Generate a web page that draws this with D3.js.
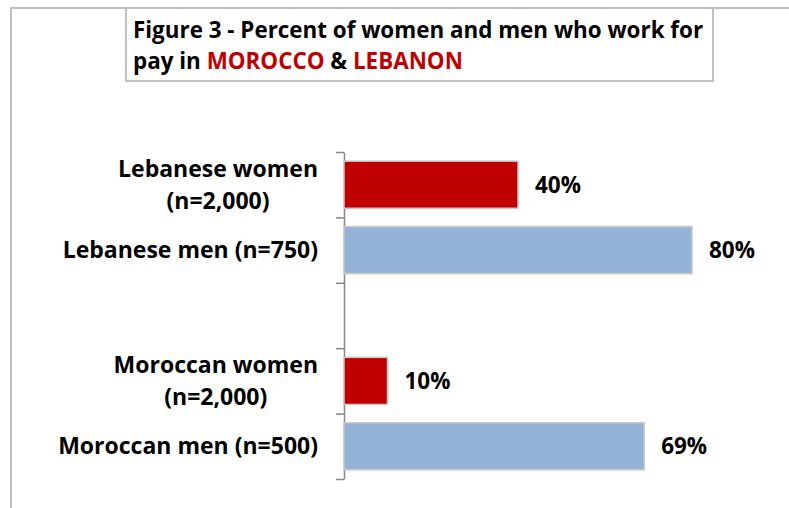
<!DOCTYPE html>
<html>
<head>
<meta charset="utf-8">
<script src="https://cdn.jsdelivr.net/npm/d3@7"></script>
<style>
  body { margin: 0; background: #fff; }
  text { font-family: "Open Sans", sans-serif; font-weight: bold; fill: #000; }
</style>
</head>
<body>
<svg id="chart" width="789" height="508"></svg>
<script>
// categories top to bottom, "gap" is the empty slot between countries
var categories = ["lw", "lm", "gap", "mw", "mm"];
var labels = {
  lw: ["Lebanese women", "(n=2,000)"],
  lm: ["Lebanese men (n=750)"],
  mw: ["Moroccan women", "(n=2,000)"],
  mm: ["Moroccan men (n=500)"]
};
var values = { lw: 40, lm: 80, mw: 10, mm: 69 };
var sex = { lw: "women", lm: "men", mw: "women", mm: "men" };
var valueLabels = { lw: "40%", lm: "80%", mw: "10%", mm: "69%" };

var svg = d3.select("#chart");
var color = { women: "#c00000", men: "#95b3d7" };

// outer frame
svg.append("path")
    .attr("d", "M11,520 V8 H800")
    .attr("fill", "none")
    .attr("stroke", "#c0c0c0")
    .attr("stroke-width", 2);

// title box
svg.append("rect")
    .attr("x", 126).attr("y", 8)
    .attr("width", 587).attr("height", 73)
    .attr("fill", "#fff")
    .attr("stroke", "#c0c0c0")
    .attr("stroke-width", 2);

var t1 = svg.append("text").attr("x", 133).attr("y", 38).style("font-size", "22.4px");
t1.text("Figure 3 - Percent of women and men who work for");
var t2 = svg.append("text").attr("x", 133).attr("y", 69).style("font-size", "22.4px");
t2.append("tspan").text("pay in ");
t2.append("tspan").style("fill", "#c00000").text("MOROCCO");
t2.append("tspan").text(" & ");
t2.append("tspan").style("fill", "#c00000").text("LEBANON");

var x = d3.scaleLinear().domain([0, 100]).range([344, 779]);
var y = d3.scaleBand().domain(categories).range([152, 479])
    .paddingInner(0.28).paddingOuter(0.14);
var yEdge = d3.scaleLinear().domain([0, categories.length]).range([152, 479]);

// category axis with ticks between categories
var axis = svg.append("g")
    .attr("transform", "translate(344,0)")
    .call(d3.axisLeft(yEdge).tickValues(d3.range(categories.length + 1))
      .tickSize(8).tickSizeOuter(0).tickFormat(""));
axis.select(".domain").attr("stroke", "#868686").attr("stroke-width", 1.5);
axis.selectAll(".tick line").attr("stroke", "#868686").attr("stroke-width", 1.5);

var data = categories.filter(function(c) { return values[c] != null; });

svg.selectAll(".bar")
    .data(data)
  .enter().append("rect")
    .attr("class", "bar")
    .attr("x", x(0))
    .attr("y", function(d) { return y(d); })
    .attr("width", function(d) { return x(values[d]) - x(0); })
    .attr("height", y.bandwidth())
    .attr("fill", function(d) { return color[sex[d]]; })
    .attr("stroke", "#c8c8c8")
    .attr("stroke-width", 1.5);

svg.selectAll(".val")
    .data(data)
  .enter().append("text")
    .attr("class", "val")
    .attr("x", function(d) { return x(values[d]) + 17; })
    .attr("y", function(d) { return y(d) + y.bandwidth() / 2; })
    .attr("dy", "0.35em")
    .style("font-size", "22.5px")
    .text(function(d) { return valueLabels[d]; });

// category labels: lines centered within a block right-aligned to x=318
var lab = svg.selectAll(".cat")
    .data(data)
  .enter().append("text")
    .attr("class", "cat")
    .style("font-size", "23px")
    .attr("text-anchor", "middle");

lab.each(function(d) {
  var el = d3.select(this);
  var lines = labels[d];
  var cy = y(d) + y.bandwidth() / 2;
  lines.forEach(function(s, i) {
    el.append("tspan")
      .attr("y", cy + (i - (lines.length - 1) / 2) * 32)
      .attr("dy", "0.35em")
      .text(s);
  });
  var w = 0;
  el.selectAll("tspan").each(function() { w = Math.max(w, this.getComputedTextLength()); });
  el.selectAll("tspan").attr("x", 318 - w / 2);
});
</script>
</body>
</html>
